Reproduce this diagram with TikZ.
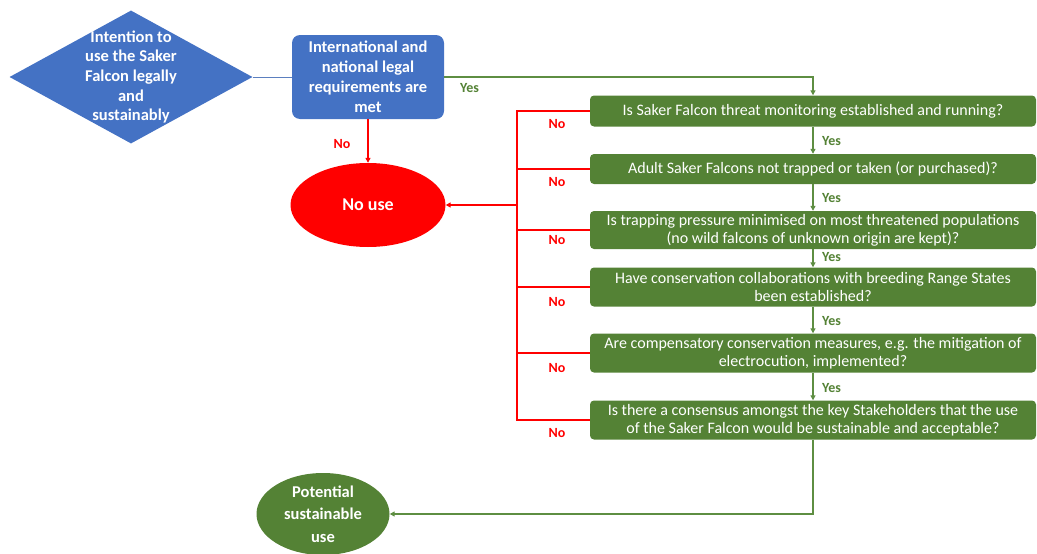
\documentclass[tikz,border=0pt]{standalone}
\usepackage{fontspec}
\setmainfont{Carlito}
\usetikzlibrary{shapes.geometric,arrows.meta}
\definecolor{cblue}{HTML}{4472C4}
\definecolor{cgreen}{HTML}{548235}
\definecolor{cred}{HTML}{FF0000}
\definecolor{gline}{HTML}{5E8E42}
\definecolor{bline}{HTML}{5B7FBF}
\begin{document}
\begin{tikzpicture}[x=1pt,y=-1pt,
  qbox/.style={rectangle, rounded corners=4pt, fill=cgreen, text=white, minimum width=446pt, inner sep=0pt, align=center, font=\fontsize{16}{18}\selectfont},
  bluebox/.style={rectangle, rounded corners=8pt, fill=cblue, text=white, minimum width=152pt, minimum height=84pt, inner sep=0pt, align=center, font=\bfseries\fontsize{16.5}{20}\selectfont},
  tip/.style={-{Triangle[length=5pt,width=5pt]}},
  gl/.style={draw=gline, line width=1.3pt},
  rl/.style={draw=cred, line width=1.3pt},
  bl/.style={draw=bline, line width=1pt},
  nolab/.style={text=cred, font=\bfseries\fontsize{14}{16}\selectfont, inner sep=0pt},
  yeslab/.style={text=cgreen, font=\bfseries\fontsize{14}{16}\selectfont, inner sep=0pt, anchor=west}
]
\useasboundingbox (0,0) rectangle (1037,554);

% start diamond
\node[diamond, fill=cblue, minimum width=243pt, minimum height=133pt, inner sep=0pt] (dia) at (131,77) {};
\node[text=white, align=center, font=\bfseries\fontsize{16.5}{19.7}\selectfont, inner sep=0pt] (diatext) at (131,77) {Intention to\\use the Saker\\Falcon legally\\and\\sustainably};

\node[bluebox] (legal) at (368,77) {International and\\national legal\\requirements are\\met};

\node[ellipse, fill=cred, text=white, minimum width=155pt, minimum height=84pt, inner sep=0pt, font=\bfseries\fontsize{18}{20}\selectfont] (nouse) at (368,205) {No use};

\node[ellipse, fill=cgreen, text=white, minimum width=133pt, minimum height=82pt, inner sep=0pt, align=center, font=\bfseries\fontsize{16.5}{22.5}\selectfont] (pot) at (323,514) {Potential\\sustainable\\use};

\node[qbox, minimum height=31pt] (q1) at (813,111) {Is Saker Falcon threat monitoring established and running?};
\node[qbox, minimum height=30pt] (q2) at (813,169) {Adult Saker Falcons not trapped or taken (or purchased)?};
\node[qbox, minimum height=38pt] (q3) at (813,230) {Is trapping pressure minimised on most threatened populations\\(no wild falcons of unknown origin are kept)?};
\node[qbox, minimum height=39pt] (q4) at (813,287) {Have conservation collaborations with breeding Range States\\been established?};
\node[qbox, minimum height=39pt] (q5) at (813,353) {Are compensatory conservation measures, e.g. the mitigation of\\electrocution, implemented?};
\node[qbox, minimum height=39pt] (q6) at (813,420) {Is there a consensus amongst the key Stakeholders that the use\\of the Saker Falcon would be sustainable and acceptable?};

\coordinate (rx) at (517,0);

% connectors
\draw[bl] (dia.east) -- (legal.west);
\draw[gl, tip] (legal.east) -- (legal.east -| q1.north) -- (q1.north);
\node[yeslab] (y0) at (460,88) {Yes};
\draw[rl, tip] (legal.south) -- (nouse.north);
\node[nolab] (n0) at (342,144) {No};

\draw[gl, tip] (q1.south) -- (q2.north);
\draw[gl, tip] (q2.south) -- (q3.north);
\draw[gl, tip] (q3.south) -- (q4.north);
\draw[gl, tip] (q4.south) -- (q5.north);
\draw[gl, tip] (q5.south) -- (q6.north);
\node[yeslab] (y1) at (822,141) {Yes};
\node[yeslab] (y2) at (822,198) {Yes};
\node[yeslab] (y3) at (822,257) {Yes};
\node[yeslab] (y4) at (822,321) {Yes};
\node[yeslab] (y5) at (822,388) {Yes};

\draw[rl] (q1.west) -- (q1.west -| rx) -- (q6.west -| rx) -- (q6.west);
\draw[rl] (q2.west) -- (q2.west -| rx);
\draw[rl] (q3.west) -- (q3.west -| rx);
\draw[rl] (q4.west) -- (q4.west -| rx);
\draw[rl] (q5.west) -- (q5.west -| rx);
\draw[rl, tip] (rx |- nouse.east) -- (nouse.east);
\node[nolab] (n1) at (557,124) {No};
\node[nolab] (n2) at (557,182) {No};
\node[nolab] (n3) at (557,240) {No};
\node[nolab] (n4) at (557,302) {No};
\node[nolab] (n5) at (557,368) {No};
\node[nolab] (n6) at (557,433) {No};

\draw[gl, tip] (q6.south) -- (q6.south |- pot.east) -- (pot.east);
\end{tikzpicture}
\end{document}
